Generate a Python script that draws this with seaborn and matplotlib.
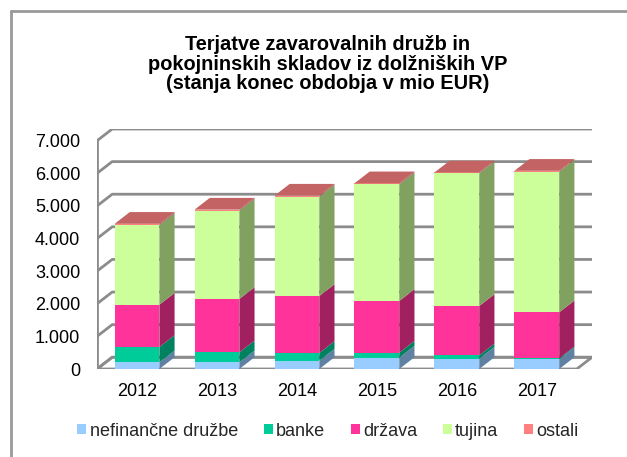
import numpy as np
import pandas as pd
import matplotlib
matplotlib.use("Agg")
import matplotlib.pyplot as plt
import seaborn as sns
from matplotlib.patches import Patch, Polygon
from matplotlib.lines import Line2D
from matplotlib.colors import to_rgb

# Data (mio EUR, end of period)
years = ["2012", "2013", "2014", "2015", "2016", "2017"]
nefinancne = [205, 205, 256, 348, 317, 297]
banke = [470, 306, 235, 153, 102, 30]
drzava = [1297, 1636, 1748, 1585, 1514, 1411]
tujina = [2445, 2710, 3047, 3579, 4069, 4315]
ostali = [35, 30, 30, 30, 25, 25]

series_names = ["nefinančne družbe", "banke", "država", "tujina", "ostali"]
series_vals = [nefinancne, banke, drzava, tujina, ostali]
colors = ["#99CCFF", "#00CC99", "#FF3399", "#CCFF99", "#FF8080"]

y_ticks = [0, 1000, 2000, 3000, 4000, 5000, 6000, 7000]

sns.set_theme(style="white")
plt.rcParams["font.family"] = ["Liberation Sans", "DejaVu Sans"]

W = 0.56          # bar width
DX, DY = 0.19, 360  # fake depth offset (x units, value units)
GRID = "#8c8c8c"


def shade(c, f):
    return tuple(v * f for v in to_rgb(c))


fig = plt.figure(figsize=(6.27, 4.57), dpi=100)
ax = fig.add_axes([97 / 627, 88 / 457, 495 / 627, 240 / 457])

# walls / floor
x0, x1 = -0.5, len(years) - 0.5
floor = Polygon([(x0, 0), (x1, 0), (x1 + DX, DY), (x0 + DX, DY)],
                closed=True, facecolor="white", edgecolor=GRID, lw=2, zorder=0.5)
ax.add_patch(floor)
for v in y_ticks:
    ax.plot([x0, x0 + DX, x1 + DX], [v, v + DY, v + DY], color=GRID, lw=2,
            zorder=0.6, solid_capstyle="butt")
ax.plot([x0, x0], [0, y_ticks[-1]], color=GRID, lw=2, zorder=0.7)

# stacked bars (front faces) drawn from the top layer down
df = pd.DataFrame({"year": years})
cum = np.cumsum(np.array(series_vals), axis=0)
for k in range(len(series_vals) - 1, -1, -1):
    df["v"] = cum[k]
    sns.barplot(data=df, x="year", y="v", color=colors[k], saturation=1,
                width=W, linewidth=0, ax=ax, zorder=3)

# side and top faces
for i in range(len(years)):
    xr = i + W / 2
    xl = i - W / 2
    bottom = 0
    for k in range(len(series_vals)):
        top = cum[k][i]
        side = Polygon([(xr, bottom), (xr + DX, bottom + DY),
                        (xr + DX, top + DY), (xr, top)],
                       closed=True, facecolor=shade(colors[k], 0.63),
                       edgecolor="none", zorder=3)
        ax.add_patch(side)
        bottom = top
    T = cum[-1][i]
    lid = Polygon([(xl, T), (xr, T), (xr + DX, T + DY), (xl + DX, T + DY)],
                  closed=True, facecolor=shade(colors[-1], 0.77),
                  edgecolor="none", zorder=3)
    ax.add_patch(lid)

ax.set_xlim(x0, x1 + DX)
ax.set_ylim(0, y_ticks[-1] + DY)
ax.set_xlabel("")
ax.set_ylabel("")
ax.set_yticks(y_ticks)
ax.set_yticklabels([f"{v:,}".replace(",", ".") for v in y_ticks])
ax.set_xticks(range(len(years)))
ax.set_xticklabels(years)
ax.tick_params(axis="y", length=0, pad=12, labelsize=13, labelcolor="black")
ax.tick_params(axis="x", length=0, pad=10, labelsize=13, labelcolor="black")
for s in ax.spines.values():
    s.set_visible(False)
ax.set_facecolor("none")

# title
title_lines = ["Terjatve zavarovalnih družb in",
               "pokojninskih skladov iz dolžniških VP",
               "(stanja konec obdobja v mio EUR)"]
for line, yb in zip(title_lines, [50, 69.5, 89]):
    fig.text(327.5 / 627, 1 - yb / 457, line, ha="center", va="baseline",
             fontsize=14.4, fontweight="bold", color="black")

# legend
handles = [Patch(facecolor=c, edgecolor="none") for c in colors]
fig.legend(handles, series_names, loc="center", ncol=5,
           bbox_to_anchor=(328 / 627, 1 - 431 / 457), frameon=False,
           fontsize=13, handlelength=0.5, handleheight=0.5,
           handletextpad=0.2, columnspacing=1.4, borderaxespad=0)

# chart border (top and left edges visible)
fig.add_artist(Line2D([11 / 627, 11 / 627], [0, 1 - 11 / 457],
                      transform=fig.transFigure, color="#999999", lw=2))
fig.add_artist(Line2D([11 / 627, 1], [1 - 11 / 457, 1 - 11 / 457],
                      transform=fig.transFigure, color="#999999", lw=2))

fig.savefig("out.png", dpi=100, facecolor="white")
